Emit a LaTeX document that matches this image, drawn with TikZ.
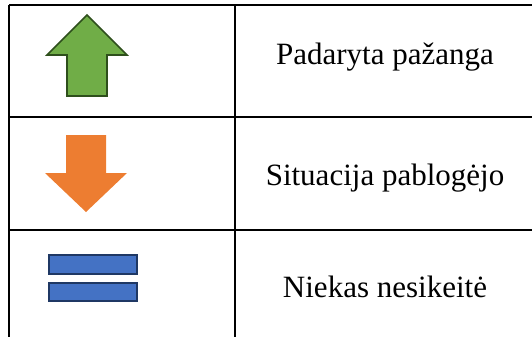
\documentclass[tikz,border=0pt]{standalone}
\usepackage{fontspec}
\setmainfont{Liberation Serif}
\definecolor{upgreen}{HTML}{70AD47}
\definecolor{updark}{HTML}{2E4F1C}
\definecolor{downorange}{HTML}{ED7D31}
\definecolor{eqblue}{HTML}{4472C4}
\definecolor{eqdark}{HTML}{1F3864}
\begin{document}
\begin{tikzpicture}
            [x=1pt, y=-1pt,
            grid/.style={draw=black, line width=2.6pt},
            label/.style={anchor=base, inner sep=0pt, font=\fontsize{31}{36}\selectfont},
            uparrow/.style={fill=upgreen, draw=updark, line width=1.6pt, line join=miter},
            downarrow/.style={fill=downorange},
            eqbar/.style={fill=eqblue, draw=eqdark, line width=2pt}]
            \useasboundingbox (0,0) rectangle (532,337);
            % table lines
            \coordinate (tl) at (9,5);
            \coordinate (tm) at (235,5);
            \coordinate (tr) at (532,5);
            \draw [grid] (tl) -- (tr);
            \draw [grid] (9,117) -- (532,117);
            \draw [grid] (9,230) -- (532,230);
            \draw [grid] (tl) -- (9,337);
            \draw [grid] (tm) -- (235,337);
            % icons
            \draw [uparrow] (87,15) -- (127,55) -- (107,55) -- (107,96)
                -- (67,96) -- (67,55) -- (47,55) -- cycle;
            \fill [downarrow] (66,135) -- (106,135) -- (106,173) -- (127,173)
                -- (86,212) -- (45,173) -- (66,173) -- cycle;
            \draw [eqbar] (49,255) rectangle (137,274);
            \draw [eqbar] (49,283) rectangle (137,301);
            % labels
            \node [label] (pazanga) at (385,64.5) {Padaryta pažanga};
            \node [label] (pablogejo) at (385,185) {Situacija pablogėjo};
            \node [label] (nesikeite) at (385,297) {Niekas nesikeitė};
\end{tikzpicture}
\end{document}
